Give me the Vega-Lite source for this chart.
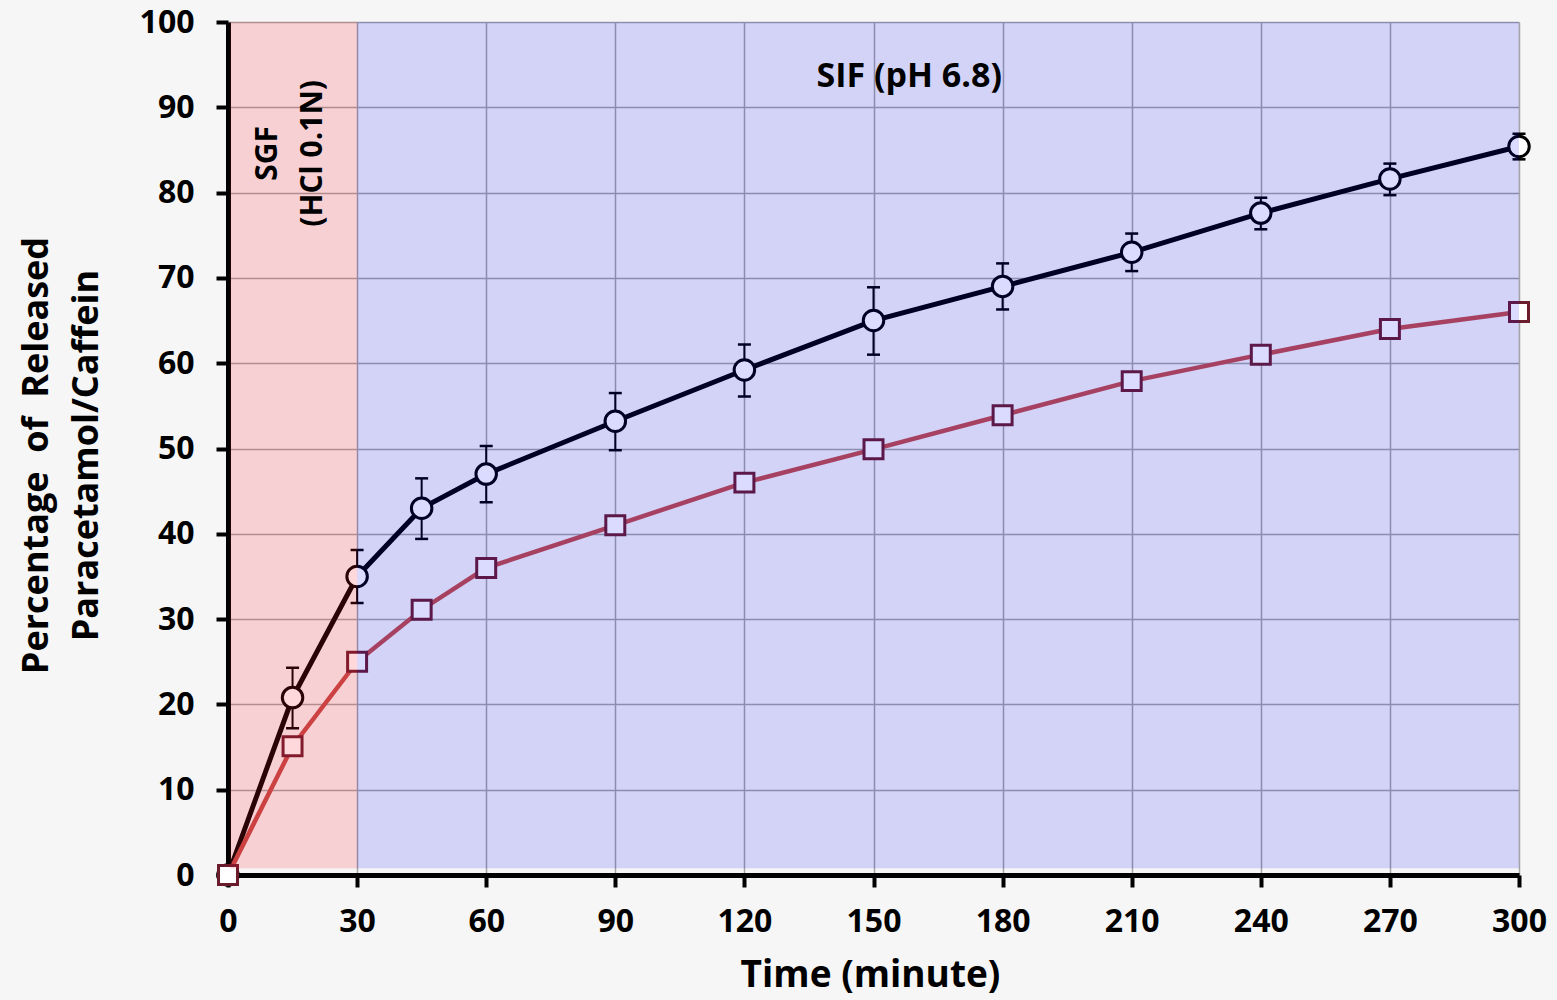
{
  "$schema": "https://vega.github.io/schema/vega-lite/v6.json",
  "width": 1291,
  "height": 853,
  "autosize": "none",
  "padding": {"left": 228, "top": 22, "right": 38, "bottom": 125},
  "background": "#f6f6f6",
  "config": {
    "view": {"stroke": null},
    "font": "Open Sans",
    "axis": {
      "labelFont": "Open Sans",
      "labelFontWeight": "bold",
      "labelFontSize": 32,
      "labelColor": "#000000",
      "labelFlush": false,
      "titleFont": "Open Sans",
      "titleFontWeight": "bold",
      "titleFontSize": 36,
      "titleColor": "#000000",
      "domainColor": "#000000",
      "domainWidth": 5,
      "tickColor": "#000000",
      "tickWidth": 4,
      "tickSize": 12,
      "grid": true,
      "gridColor": "#a4a4a4",
      "gridWidth": 1.5,
      "gridOpacity": 1
    }
  },
  "datasets": {
    "release": [
      {"time": 0, "drug": "Paracetamol", "value": 0, "lo": 0, "hi": 0},
      {"time": 15, "drug": "Paracetamol", "value": 20.8, "lo": 17.2, "hi": 24.3},
      {"time": 30, "drug": "Paracetamol", "value": 35, "lo": 31.9, "hi": 38.1},
      {"time": 45, "drug": "Paracetamol", "value": 43, "lo": 39.4, "hi": 46.5},
      {"time": 60, "drug": "Paracetamol", "value": 47, "lo": 43.7, "hi": 50.3},
      {"time": 90, "drug": "Paracetamol", "value": 53.2, "lo": 49.8, "hi": 56.5},
      {"time": 120, "drug": "Paracetamol", "value": 59.2, "lo": 56.1, "hi": 62.2},
      {"time": 150, "drug": "Paracetamol", "value": 65, "lo": 61, "hi": 68.9},
      {"time": 180, "drug": "Paracetamol", "value": 69, "lo": 66.3, "hi": 71.7},
      {"time": 210, "drug": "Paracetamol", "value": 73, "lo": 70.8, "hi": 75.2},
      {"time": 240, "drug": "Paracetamol", "value": 77.6, "lo": 75.7, "hi": 79.4},
      {"time": 270, "drug": "Paracetamol", "value": 81.6, "lo": 79.7, "hi": 83.4},
      {"time": 300, "drug": "Paracetamol", "value": 85.4, "lo": 83.9, "hi": 86.9},
      {"time": 0, "drug": "Caffeine", "value": 0},
      {"time": 15, "drug": "Caffeine", "value": 15.1},
      {"time": 30, "drug": "Caffeine", "value": 25},
      {"time": 45, "drug": "Caffeine", "value": 31.1},
      {"time": 60, "drug": "Caffeine", "value": 36},
      {"time": 90, "drug": "Caffeine", "value": 41},
      {"time": 120, "drug": "Caffeine", "value": 46},
      {"time": 150, "drug": "Caffeine", "value": 49.9},
      {"time": 180, "drug": "Caffeine", "value": 53.9},
      {"time": 210, "drug": "Caffeine", "value": 57.9},
      {"time": 240, "drug": "Caffeine", "value": 61},
      {"time": 270, "drug": "Caffeine", "value": 64},
      {"time": 300, "drug": "Caffeine", "value": 66}
    ],
    "phases": [
      {"phase": "SGF", "start": 0.5, "end": 30, "low": 0.8, "high": 100},
      {"phase": "SIF", "start": 30, "end": 300, "low": 0.8, "high": 100}
    ],
    "labels": [
      {"label": "SGF", "x": 9.3, "y": 84.6, "kind": "rot"},
      {"label": "(HCl 0.1N)", "x": 19.75, "y": 84.6, "kind": "rot"},
      {"label": "SIF (pH 6.8)", "x": 158.3, "y": 93.6, "kind": "flat"}
    ]
  },
  "layer": [
    {
      "data": {"name": "release"},
      "transform": [{"filter": "datum.drug === 'Paracetamol'"}],
      "mark": {"type": "line", "color": "#000000", "strokeWidth": 5},
      "encoding": {
        "x": {
          "field": "time", "type": "quantitative",
          "scale": {"domain": [0, 300], "nice": false, "zero": true},
          "axis": {
            "values": [0, 30, 60, 90, 120, 150, 180, 210, 240, 270, 300],
            "title": "Time (minute)",
            "titleFontSize": 37,
            "labelPadding": 19,
            "titleX": 642,
            "titleY": 100,
            "titleBaseline": "middle",
            "titleAlign": "center"
          }
        },
        "y": {
          "field": "value", "type": "quantitative",
          "scale": {"domain": [0, 100], "nice": false},
          "axis": {
            "values": [0, 10, 20, 30, 40, 50, 60, 70, 80, 90, 100],
            "title": ["Percentage\u00a0\u00a0of\u00a0\u00a0Released", "Paracetamol/Caffein"],
            "labelPadding": 22,
            "titleX": -192,
            "titleY": 433,
            "titleAngle": -90,
            "titleBaseline": "middle",
            "titleAlign": "center",
            "titleLineHeight": 50
          }
        }
      }
    },
    {
      "data": {"name": "release"},
      "transform": [{"filter": "datum.drug === 'Caffeine'"}],
      "mark": {"type": "line", "color": "#c34c48", "strokeWidth": 4.5},
      "encoding": {
        "x": {"field": "time", "type": "quantitative"},
        "y": {"field": "value", "type": "quantitative"}
      }
    },
    {
      "data": {"name": "release"},
      "transform": [{"filter": "datum.drug === 'Paracetamol' && datum.time > 0"}],
      "mark": {"type": "rule", "color": "#000000", "strokeWidth": 2},
      "encoding": {
        "x": {"field": "time", "type": "quantitative"},
        "y": {"field": "lo", "type": "quantitative"},
        "y2": {"field": "hi"}
      }
    },
    {
      "data": {"name": "release"},
      "transform": [{"filter": "datum.drug === 'Paracetamol' && datum.time > 0"}],
      "mark": {"type": "tick", "orient": "horizontal", "color": "#000000", "size": 13, "thickness": 2.5, "opacity": 1},
      "encoding": {
        "x": {"field": "time", "type": "quantitative"},
        "y": {"field": "lo", "type": "quantitative"}
      }
    },
    {
      "data": {"name": "release"},
      "transform": [{"filter": "datum.drug === 'Paracetamol' && datum.time > 0"}],
      "mark": {"type": "tick", "orient": "horizontal", "color": "#000000", "size": 13, "thickness": 2.5, "opacity": 1},
      "encoding": {
        "x": {"field": "time", "type": "quantitative"},
        "y": {"field": "hi", "type": "quantitative"}
      }
    },
    {
      "data": {"name": "release"},
      "transform": [{"filter": "datum.drug === 'Paracetamol'"}],
      "mark": {"type": "point", "shape": "circle", "size": 420, "filled": true, "fill": "#ffffff", "stroke": "#000000", "strokeWidth": 3, "opacity": 1},
      "encoding": {
        "x": {"field": "time", "type": "quantitative"},
        "y": {"field": "value", "type": "quantitative"}
      }
    },
    {
      "data": {"name": "release"},
      "transform": [{"filter": "datum.drug === 'Caffeine'"}],
      "mark": {"type": "point", "shape": "square", "size": 360, "filled": true, "fill": "#ffffff", "stroke": "#6b1c2c", "strokeWidth": 3, "opacity": 1},
      "encoding": {
        "x": {"field": "time", "type": "quantitative"},
        "y": {"field": "value", "type": "quantitative"}
      }
    },
    {
      "data": {"name": "phases"},
      "transform": [{"filter": "datum.phase === 'SGF'"}],
      "mark": {"type": "rect", "color": "#ff1428", "opacity": 0.16, "stroke": "#ff1428", "strokeWidth": 2, "strokeOpacity": 0.12},
      "encoding": {
        "x": {"field": "start", "type": "quantitative"},
        "x2": {"field": "end"},
        "y": {"field": "low", "type": "quantitative"},
        "y2": {"field": "high"}
      }
    },
    {
      "data": {"name": "phases"},
      "transform": [{"filter": "datum.phase === 'SIF'"}],
      "mark": {"type": "rect", "color": "#0000ff", "opacity": 0.14},
      "encoding": {
        "x": {"field": "start", "type": "quantitative"},
        "x2": {"field": "end"},
        "y": {"field": "low", "type": "quantitative"},
        "y2": {"field": "high"}
      }
    },
    {
      "data": {"name": "labels"},
      "transform": [{"filter": "datum.kind === 'rot'"}],
      "mark": {"type": "text", "angle": 270, "font": "Open Sans", "fontWeight": "bold", "fontSize": 30, "color": "#000000", "baseline": "middle", "align": "center"},
      "encoding": {
        "x": {"field": "x", "type": "quantitative"},
        "y": {"field": "y", "type": "quantitative"},
        "text": {"field": "label"}
      }
    },
    {
      "data": {"name": "labels"},
      "transform": [{"filter": "datum.kind === 'flat'"}],
      "mark": {"type": "text", "font": "Open Sans", "fontWeight": "bold", "fontSize": 34, "color": "#000000", "baseline": "middle", "align": "center"},
      "encoding": {
        "x": {"field": "x", "type": "quantitative"},
        "y": {"field": "y", "type": "quantitative"},
        "text": {"field": "label"}
      }
    }
  ]
}
